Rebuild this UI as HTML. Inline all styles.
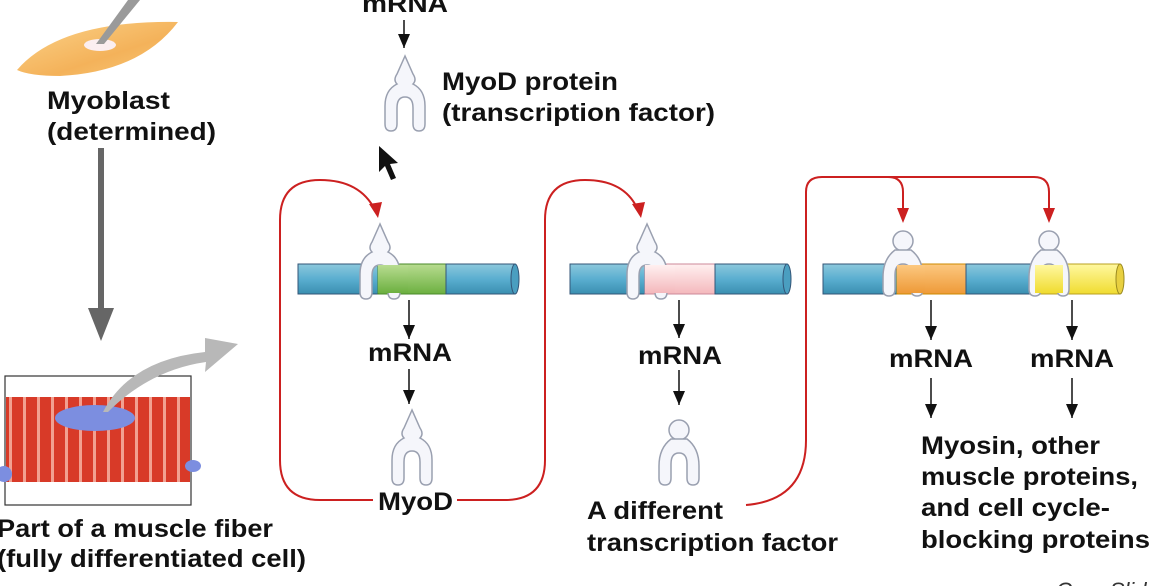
<!DOCTYPE html>
<html><head><meta charset="utf-8"><style>
html,body{margin:0;padding:0;background:#fff;width:1176px;height:586px;overflow:hidden}
svg text{font-family:"Liberation Sans",Arial,sans-serif;font-weight:bold;fill:#111}
</style></head><body>
<svg width="1176" height="586" viewBox="0 0 1176 586" xmlns="http://www.w3.org/2000/svg">
<defs>
<linearGradient id="cell" x1="0" y1="0" x2="1" y2="1"><stop offset="0" stop-color="#fbd38a"/><stop offset="0.6" stop-color="#f4b25a"/><stop offset="1" stop-color="#f8c878"/></linearGradient>
<linearGradient id="blue" x1="0" y1="0" x2="0" y2="1"><stop offset="0" stop-color="#8cc8dc"/><stop offset="0.5" stop-color="#5aaed0"/><stop offset="1" stop-color="#3a8fb0"/></linearGradient>
<linearGradient id="green" x1="0" y1="0" x2="0" y2="1"><stop offset="0" stop-color="#b8dc90"/><stop offset="1" stop-color="#6cb040"/></linearGradient>
<linearGradient id="pink" x1="0" y1="0" x2="0" y2="1"><stop offset="0" stop-color="#fff0f0"/><stop offset="1" stop-color="#f4b8bc"/></linearGradient>
<linearGradient id="orange" x1="0" y1="0" x2="0" y2="1"><stop offset="0" stop-color="#fcc880"/><stop offset="1" stop-color="#ee9a38"/></linearGradient>
<linearGradient id="yellow" x1="0" y1="0" x2="0" y2="1"><stop offset="0" stop-color="#fff8a0"/><stop offset="1" stop-color="#f0dc30"/></linearGradient>
<pattern id="stripes" width="14" height="90" patternUnits="userSpaceOnUse"><rect width="14" height="90" fill="#d83a28"/><rect x="9" width="3" height="90" fill="#f2a090"/></pattern>
<marker id="ak" markerWidth="14" markerHeight="14" refX="14" refY="6" orient="auto" markerUnits="userSpaceOnUse"><path d="M0,0 L14,6 L0,12 Z" fill="#111"/></marker>
<g id="pt"><path d="M22,0 L14,18 Q10,24 14,28 Q2,34 2,50 L2,68 Q2,75 8,75 Q14,75 14,68 L14,52 Q14,41 22,41 Q30,41 30,52 L30,68 Q30,75 36,75 Q42,75 42,68 L42,50 Q42,34 30,28 Q34,24 30,18 Z" fill="#f5f6fb" stroke="#9aa0b0" stroke-width="1.5"/></g>
<g id="rd"><circle cx="22" cy="10" r="10" fill="#f5f6fb" stroke="#9aa0b0" stroke-width="1.5"/><path d="M14,19 Q2,28 2,46 L2,58 Q2,65 8,65 Q14,65 14,58 L14,44 Q14,33 22,33 Q30,33 30,44 L30,58 Q30,65 36,65 Q42,65 42,58 L42,46 Q42,28 30,19 Z" fill="#f5f6fb" stroke="#9aa0b0" stroke-width="1.5"/></g>
</defs>

<path d="M17,70 Q60,20 178,22 Q140,72 60,76 Q30,76 17,70 Z" fill="url(#cell)"/>
<ellipse cx="100" cy="45" rx="16" ry="6" fill="#fbeef0"/>
<path d="M96,44 L128,0 L140,0 L104,44 Z" fill="#9a9a9a"/>
<text x="47" y="109" font-size="25" textLength="123" lengthAdjust="spacingAndGlyphs">Myoblast</text>
<text x="47" y="140" font-size="25" textLength="169" lengthAdjust="spacingAndGlyphs">(determined)</text>
<rect x="98" y="148" width="6" height="160" fill="#666"/>
<path d="M88,308 L114,308 L101,341 Z" fill="#666"/>

<rect x="5" y="376" width="186" height="129" fill="#fff" stroke="#333" stroke-width="1.2"/>
<rect x="6" y="397" width="184" height="85" fill="url(#stripes)"/>
<ellipse cx="95" cy="418" rx="40" ry="13" fill="#7c8ee0"/>
<ellipse cx="4" cy="474" rx="8" ry="8" fill="#7c8ee0"/>
<ellipse cx="193" cy="466" rx="8" ry="6" fill="#7c8ee0"/>
<path d="M103,412 Q130,360 205,352 L205,338 L238,344 L205,372 L206,362 Q150,370 108,412 Z" fill="#b8b8b8"/>
<text x="-3" y="537" font-size="25" textLength="276" lengthAdjust="spacingAndGlyphs">Part of a muscle fiber</text>
<text x="-3" y="567" font-size="25" textLength="309" lengthAdjust="spacingAndGlyphs">(fully differentiated cell)</text>

<text x="362" y="12" font-size="25" textLength="86" lengthAdjust="spacingAndGlyphs">mRNA</text>
<line x1="404" y1="20" x2="404" y2="48" stroke="#111" stroke-width="1.5" marker-end="url(#ak)"/>
<use href="#pt" x="383" y="56"/>
<text x="442" y="90" font-size="25" textLength="176" lengthAdjust="spacingAndGlyphs">MyoD protein</text>
<text x="442" y="121" font-size="25" textLength="273" lengthAdjust="spacingAndGlyphs">(transcription factor)</text>
<path d="M379,146 L379,172 L385,166 L391,180 L396,178 L390,164 L398,163 Z" fill="#111"/>

<g fill="none" stroke="#cc2020" stroke-width="2">
<path d="M373,500 L320,500 Q280,500 280,460 L280,220 Q280,180 320,180 Q360,180 375,210"/>
<path d="M457,500 L505,500 Q545,500 545,460 L545,220 Q545,180 585,180 Q625,180 638,210"/>
<path d="M746,505 Q806,500 806,440 L806,192 Q806,177 822,177 L1034,177 Q1049,177 1049,192 L1049,212"/>
<path d="M888,177 Q903,177 903,192 L903,212"/>
</g>
<g fill="#cc2020">
<path d="M369,204 L382,202 L378,218 Z"/>
<path d="M632,204 L645,202 L641,218 Z"/>
<path d="M897,208 L909,208 L903,223 Z"/>
<path d="M1043,208 L1055,208 L1049,223 Z"/>
</g>

<rect x="298" y="264" width="80" height="30" fill="url(#blue)" stroke="#357" stroke-width="1"/>
<rect x="378" y="264" width="68" height="30" fill="url(#green)" stroke="#4a8a2a" stroke-width="1"/>
<rect x="446" y="264" width="69" height="30" fill="url(#blue)" stroke="#357" stroke-width="1"/>
<ellipse cx="515" cy="279" rx="4" ry="15" fill="#4a9ec0" stroke="#357"/>
<use href="#pt" x="358" y="224"/>
<rect x="378" y="265" width="30" height="28" fill="url(#green)"/>
<rect x="570" y="264" width="75" height="30" fill="url(#blue)" stroke="#357" stroke-width="1"/>
<rect x="645" y="264" width="70" height="30" fill="url(#pink)" stroke="#c89" stroke-width="1"/>
<rect x="715" y="264" width="72" height="30" fill="url(#blue)" stroke="#357" stroke-width="1"/>
<ellipse cx="787" cy="279" rx="4" ry="15" fill="#4a9ec0" stroke="#357"/>
<use href="#pt" x="625" y="224"/>
<rect x="645" y="265" width="30" height="28" fill="url(#pink)"/>
<rect x="823" y="264" width="74" height="30" fill="url(#blue)" stroke="#357" stroke-width="1"/>
<rect x="897" y="264" width="69" height="30" fill="url(#orange)" stroke="#c80" stroke-width="1"/>
<rect x="966" y="264" width="69" height="30" fill="url(#blue)" stroke="#357" stroke-width="1"/>
<rect x="1035" y="264" width="85" height="30" fill="url(#yellow)" stroke="#b9a020" stroke-width="1"/>
<ellipse cx="1120" cy="279" rx="4" ry="15" fill="#e8d040" stroke="#9a8a20"/>
<use href="#rd" x="881" y="231"/>
<rect x="897" y="265" width="28" height="28" fill="url(#orange)"/>
<use href="#rd" x="1027" y="231"/>
<rect x="1035" y="265" width="28" height="28" fill="url(#yellow)"/>

<g stroke="#111" stroke-width="1.5">
<line x1="409" y1="300" x2="409" y2="339" marker-end="url(#ak)"/>
<line x1="409" y1="369" x2="409" y2="404" marker-end="url(#ak)"/>
<line x1="679" y1="300" x2="679" y2="338" marker-end="url(#ak)"/>
<line x1="679" y1="370" x2="679" y2="405" marker-end="url(#ak)"/>
<line x1="931" y1="300" x2="931" y2="340" marker-end="url(#ak)"/>
<line x1="931" y1="378" x2="931" y2="418" marker-end="url(#ak)"/>
<line x1="1072" y1="300" x2="1072" y2="340" marker-end="url(#ak)"/>
<line x1="1072" y1="378" x2="1072" y2="418" marker-end="url(#ak)"/>
</g>
<text x="368" y="361" font-size="25" textLength="84" lengthAdjust="spacingAndGlyphs">mRNA</text>
<use href="#pt" x="390" y="410"/>
<text x="378" y="510" font-size="25" textLength="75" lengthAdjust="spacingAndGlyphs">MyoD</text>
<text x="638" y="364" font-size="25" textLength="84" lengthAdjust="spacingAndGlyphs">mRNA</text>
<use href="#rd" x="657" y="420"/>
<text x="587" y="519" font-size="25" textLength="136" lengthAdjust="spacingAndGlyphs">A different</text>
<text x="587" y="551" font-size="25" textLength="251" lengthAdjust="spacingAndGlyphs">transcription factor</text>
<text x="889" y="367" font-size="25" textLength="84" lengthAdjust="spacingAndGlyphs">mRNA</text>
<text x="1030" y="367" font-size="25" textLength="84" lengthAdjust="spacingAndGlyphs">mRNA</text>
<text x="921" y="454" font-size="25" textLength="179" lengthAdjust="spacingAndGlyphs">Myosin, other</text>
<text x="921" y="485" font-size="25" textLength="217" lengthAdjust="spacingAndGlyphs">muscle proteins,</text>
<text x="921" y="516" font-size="25" textLength="189" lengthAdjust="spacingAndGlyphs">and cell cycle-</text>
<text x="921" y="548" font-size="25" textLength="229" lengthAdjust="spacingAndGlyphs">blocking proteins</text>
<text x="1056" y="598" font-size="22" style="font-weight:normal;font-style:italic;fill:#333">Core Slide</text>
</svg>
</body></html>
